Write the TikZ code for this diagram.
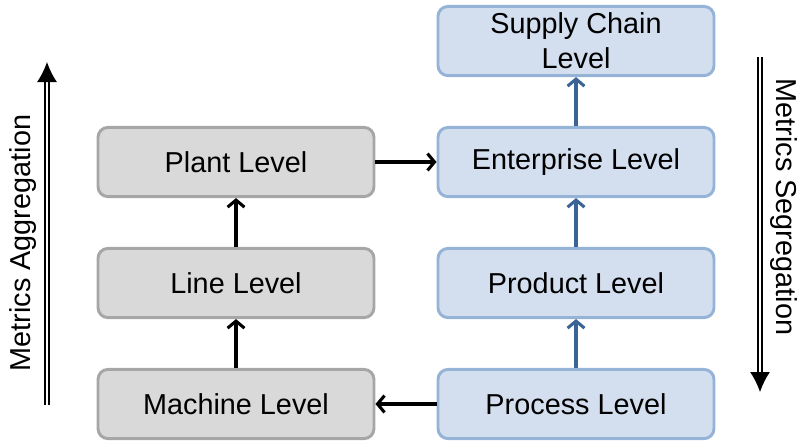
\documentclass[tikz,border=0pt]{standalone}
\usepackage{fontspec}
\setmainfont{Liberation Sans}
\usetikzlibrary{arrows.meta}
\definecolor{grayfill}{HTML}{D9D9D9}
\definecolor{graydraw}{HTML}{A6A6A6}
\definecolor{bluefill}{HTML}{D3DFEE}
\definecolor{bluedraw}{HTML}{95B3D7}
\definecolor{bluearrow}{HTML}{3A6496}
\begin{document}
\begin{tikzpicture}[node distance=3.025cm,
  every node/.style={align=center, font=\fontsize{20.5}{25}\selectfont},
  levelbox/.style={draw, rounded corners=0.25cm, line width=2.1pt, minimum width=6.9cm, minimum height=1.73cm, inner sep=0pt},
  graybox/.style={levelbox, fill=grayfill, draw=graydraw},
  bluebox/.style={levelbox, fill=bluefill, draw=bluedraw},
  link/.style={line width=2.2pt, -{Straight Barb[length=5pt,width=12pt]}},
  bigarrow/.style={double, double distance=2pt, line width=0.8pt, -{Latex[length=0.5cm,width=0.5cm]}}]
\useasboundingbox (0,0) rectangle (20.025,-11.1);
\node (machine) [graybox] at (5.9,-10.1) {Machine Level};
\node (line) [graybox, above of=machine] {Line Level};
\node (plant) [graybox, above of=line] {Plant Level};
\node (process) [bluebox, right of=machine, xshift=5.475cm] {Process Level};
\node (product) [bluebox, above of=process] {Product Level};
\node (enterprise) [bluebox, above of=product] {Enterprise Level};
\node (supply) [bluebox, above of=enterprise] {Supply Chain\\Level};

\draw[link] (machine) -- (line);
\draw[link] (line) -- (plant);
\draw[link] (plant) -- (enterprise);
\draw[link] (process) -- (machine);
\draw[link, draw=bluearrow] (process) -- (product);
\draw[link, draw=bluearrow] (product) -- (enterprise);
\draw[link, draw=bluearrow] (enterprise) -- (supply);

% side arrows
\coordinate (aggbottom) at (1.175,-10.125);
\coordinate (aggtop) at (1.175,-1.55);
\coordinate (segtop) at (19.0,-1.425);
\coordinate (segbottom) at (19.0,-9.8);
\draw[bigarrow] (aggbottom) -- (aggtop);
\draw[bigarrow] (segtop) -- (segbottom);
\node (agglabel) [rotate=90] at (0.58,-6.075) {Metrics Aggregation};
\node (seglabel) [rotate=-90] at (19.6,-5.175) {Metrics Segregation};
\end{tikzpicture}
\end{document}
